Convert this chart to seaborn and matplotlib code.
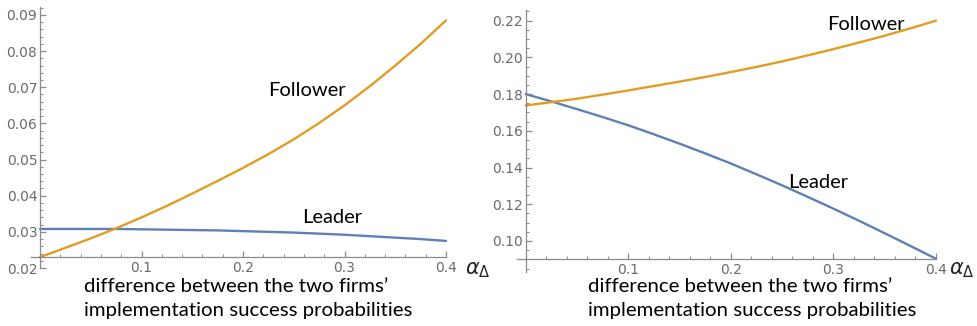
import numpy as np
import pandas as pd
import matplotlib
matplotlib.use("Agg")
import matplotlib.pyplot as plt
from matplotlib.ticker import MultipleLocator, FormatStrFormatter
import seaborn as sns

# alpha_Delta grid
alpha = [0.0, 0.025, 0.05, 0.075, 0.10, 0.125, 0.15, 0.175, 0.20,
         0.225, 0.25, 0.275, 0.30, 0.325, 0.35, 0.375, 0.40]

# left panel
leader_left = [0.0308, 0.0308, 0.0308, 0.0308, 0.0307, 0.0306, 0.0305, 0.0304, 0.0302,
               0.0300, 0.0298, 0.0295, 0.0292, 0.0288, 0.0284, 0.0280, 0.0275]
follower_left = [0.0230, 0.0256, 0.0282, 0.0310, 0.0340, 0.0372, 0.0406, 0.0441, 0.0477,
                 0.0515, 0.0556, 0.0601, 0.0650, 0.0703, 0.0760, 0.0820, 0.0885]

# right panel
leader_right = [0.1800, 0.1760, 0.1718, 0.1675, 0.1630, 0.1581, 0.1530, 0.1477, 0.1422,
                0.1363, 0.1303, 0.1240, 0.1176, 0.1110, 0.1042, 0.0973, 0.0903]
follower_right = [0.1738, 0.1756, 0.1775, 0.1797, 0.1820, 0.1844, 0.1868, 0.1893, 0.1920,
                  0.1948, 0.1978, 0.2011, 0.2045, 0.2081, 0.2118, 0.2158, 0.2200]

xticks = [0.1, 0.2, 0.3, 0.4]
xlabel_text = "difference between the two firms\u2019\nimplementation success probabilities"

blue = "#5E81B5"
orange = "#E19C24"
axis_col = "#8a8a8a"
tick_col = "#6b6b6b"

sns.set_style("white")
plt.rcParams["font.family"] = ["DejaVu Sans"]

fig = plt.figure(figsize=(9.77, 3.26), dpi=100)
W, H = 977, 326

def px_axes(x0, x1, ytop, ybot):
    return fig.add_axes([x0 / W, 1 - ybot / H, (x1 - x0) / W, (ybot - ytop) / H])

panels = [
    dict(rect=(31, 446, 7, 268), xlim=(-0.009, 0.4), ylim=(0.02, 0.0922), yorig=0.023,
         leader=leader_left, follower=follower_left, major=0.01, minor=0.002,
         fol_lab=(0.263, 0.0692), lead_lab=(0.288, 0.0339),
         xlab_x=84, alpha_x=465),
    dict(rect=(516.7, 936, 10, 272), xlim=(-0.0088, 0.4), ylim=(0.0831, 0.2258), yorig=0.0902,
         leader=leader_right, follower=follower_right, major=0.02, minor=0.005,
         fol_lab=(0.332, 0.2177), lead_lab=(0.285, 0.1321),
         xlab_x=588, alpha_x=949),
]

for p in panels:
    ax = px_axes(*p["rect"])
    df = pd.DataFrame({"alpha": alpha, "Leader": p["leader"], "Follower": p["follower"]})
    sns.lineplot(data=df, x="alpha", y="Leader", ax=ax, color=blue, lw=1.7, clip_on=False)
    sns.lineplot(data=df, x="alpha", y="Follower", ax=ax, color=orange, lw=1.7, clip_on=False)
    ax.set_xlim(*p["xlim"])
    ax.set_ylim(*p["ylim"])
    ax.set_xlabel("")
    ax.set_ylabel("")
    ax.set_facecolor("none")

    for s in ["top", "right"]:
        ax.spines[s].set_visible(False)
    ax.spines["left"].set_position(("data", 0))
    ax.spines["bottom"].set_position(("data", p["yorig"]))
    for s in ["left", "bottom"]:
        ax.spines[s].set_color(axis_col)
        ax.spines[s].set_linewidth(0.9)

    ax.set_xticks(xticks)
    ax.xaxis.set_minor_locator(MultipleLocator(0.02))
    ax.yaxis.set_major_locator(MultipleLocator(p["major"]))
    ax.yaxis.set_minor_locator(MultipleLocator(p["minor"]))
    ax.yaxis.set_major_formatter(FormatStrFormatter("%.2f"))
    ax.xaxis.set_major_formatter(FormatStrFormatter("%.1f"))
    ax.tick_params(which="both", bottom=True, left=True, top=False, right=False)
    ax.tick_params(which="major", direction="in", length=4, width=0.9, color=axis_col,
                   labelcolor=tick_col, labelsize=10)
    ax.tick_params(which="minor", direction="in", length=2.3, width=0.7, color=axis_col)
    ax.tick_params(axis="y", pad=2)
    ax.tick_params(axis="x", pad=3)
    ax.grid(False)

    ax.text(*p["fol_lab"], "Follower", fontsize=14.5, family="Lato", color="black",
            ha="center", va="center")
    ax.text(*p["lead_lab"], "Leader", fontsize=14.5, family="Lato", color="black",
            ha="center", va="center")

    fig.text(p["xlab_x"] / W, 1 - 298.5 / H, xlabel_text, fontsize=14.7, family="Lato",
             color="black", ha="left", va="center", linespacing=1.5)
    fig.text(p["alpha_x"] / W, 1 - 270 / H, r"$\alpha_\Delta$", fontsize=15,
             ha="left", va="center")

fig.savefig("out.png", dpi=100)
